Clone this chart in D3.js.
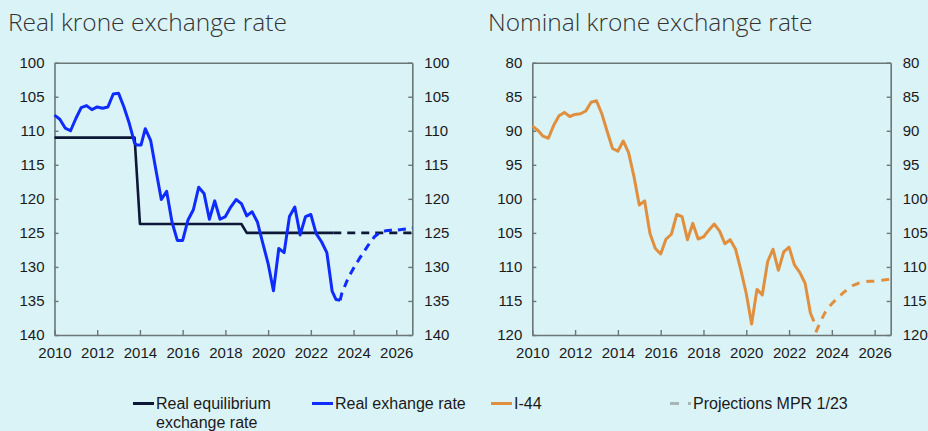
<!DOCTYPE html>
<html>
<head>
<meta charset="utf-8">
<script src="https://cdn.jsdelivr.net/npm/d3@7"></script>
<style>
  html, body { margin: 0; padding: 0; background: #daf3f7; }
  svg { display: block; }
  text { font-family: "Liberation Sans", Arial, sans-serif; fill: #1a1a1a; }
  .title { font-family: "Open Sans", sans-serif; font-weight: 300; font-size: 24.5px; fill: #333; }
</style>
</head>
<body>
<svg id="chart" width="928" height="431"></svg>
<script>
// ---------- DATA ----------
const xTickYears = [2010, 2012, 2014, 2016, 2018, 2020, 2022, 2024, 2026];
const realTicks = [100, 105, 110, 115, 120, 125, 130, 135, 140];
const nomTicks = [80, 85, 90, 95, 100, 105, 110, 115, 120];

// Real exchange rate (quarter position in years, value)
const realTime = [2010.00,2010.25,2010.50,2010.75,2011.00,2011.25,2011.50,2011.75,2012.00,2012.25,2012.50,2012.75,2013.00,2013.25,2013.50,2013.75,
  2013.85,2014.05,2014.25,2014.50,2014.75,2015.00,2015.25,2015.50,2015.75,2016.00,2016.25,2016.50,2016.75,2017.00,2017.25,2017.50,2017.75,
  2018.00,2018.25,2018.50,2018.75,2019.00,2019.25,2019.50,2019.75,2020.00,2020.25,2020.50,2020.75,2021.00,2021.25,2021.50,2021.75,
  2022.00,2022.25,2022.50,2022.75,2023.00,2023.18,2023.37];
const realValue = [107.7,108.3,109.6,110.0,108.2,106.6,106.3,106.9,106.5,106.7,106.5,104.6,104.5,106.5,108.9,111.8,
  112.1,112.1,109.7,111.4,115.8,120.1,118.9,123.4,126.1,126.1,123.1,121.6,118.3,119.2,123.0,120.3,123.0,
  122.6,121.2,120.1,120.7,122.5,121.9,123.4,126.5,129.5,133.5,127.3,127.9,122.6,121.2,125.3,122.6,
  122.3,125.1,126.3,127.9,133.6,134.8,134.9];
// Real exchange rate projection (MPR 1/23)
const realProjTime = [2023.37,2023.45,2023.75,2024.00,2024.25,2024.50,2024.75,2025.00,2025.25,2025.50,2025.75,2026.00,2026.25,2026.50,2026.75];
const realProjValue = [134.9,133.9,131.6,130.2,128.9,127.7,126.5,125.5,124.9,124.7,124.6,124.6,124.5,124.4,124.3];

// Real equilibrium exchange rate
const eqTime = [2010.00,2013.75,2014.00,2018.75,2019.00,2023.05];
const eqValue = [111.0,111.0,123.7,123.7,125.0,125.0];
const eqProjTime = [2023.05,2026.75];
const eqProjValue = [125.0,125.0];

// I-44 nominal
const nomTime = [2010.00,2010.25,2010.50,2010.75,2011.00,2011.25,2011.50,2011.75,2012.00,2012.25,2012.50,2012.75,2013.00,2013.25,2013.50,2013.75,
  2014.00,2014.25,2014.50,2014.75,2015.00,2015.25,2015.50,2015.75,2016.00,2016.25,2016.50,2016.75,2017.00,2017.25,2017.50,2017.75,
  2018.00,2018.25,2018.50,2018.75,2019.00,2019.25,2019.50,2019.75,2020.00,2020.25,2020.50,2020.75,2021.00,2021.25,2021.50,2021.75,
  2022.00,2022.25,2022.50,2022.75,2023.00,2023.16];
const nomValue = [89.3,89.9,90.8,91.1,89.2,87.8,87.3,87.9,87.6,87.5,87.1,85.8,85.6,87.5,90.1,92.6,
  93.0,91.5,93.2,96.7,100.9,100.3,105.1,107.3,108.1,105.9,105.2,102.3,102.6,106.0,103.6,105.9,
  105.6,104.6,103.7,104.7,106.6,106.0,107.4,110.5,113.9,118.4,113.3,114.1,109.2,107.4,110.5,107.8,
  107.1,109.7,110.8,112.4,116.8,118.0];
const nomProjTime = [2023.25,2023.50,2023.75,2024.00,2024.25,2024.50,2024.75,2025.00,2025.25,2025.50,2025.75,2026.00,2026.25,2026.50,2026.75];
const nomProjValue = [119.6,117.8,116.3,115.4,114.6,113.9,113.2,112.7,112.4,112.2,112.1,112.1,112.0,111.9,111.8];

const legendLabels = [["Real equilibrium", "exchange rate"], ["Real exhange rate"], ["I-44"], ["Projections MPR 1/23"]];

// ---------- DRAW ----------
const svg = d3.select("#chart");
const C = { axis: "#6c7676", navy: "#0c1836", blue: "#0f2cff", orange: "#e08f3e", grey: "#aab3b5" };

function panel(opts) {
  const x = d3.scaleLinear().domain([2010, 2026.75]).range([opts.x0, opts.x1]);
  const y = d3.scaleLinear().domain(opts.domain).range([opts.y0, opts.y1]);
  const g = svg.append("g");

  svg.append("text").attr("class", "title").attr("x", opts.titleX).attr("y", 31).text(opts.title);

  const styleAxis = sel => {
    sel.select(".domain").attr("stroke", C.axis).attr("stroke-width", 1.6);
    sel.selectAll(".tick line").attr("stroke", C.axis).attr("stroke-width", 1.4);
    sel.selectAll(".tick text").style("font-size", "15px").attr("fill", "#1a1a1a");
  };

  g.append("g").attr("transform", `translate(${opts.x0},0)`)
    .call(d3.axisLeft(y).tickValues(opts.ticks).tickSize(-4).tickSizeOuter(0).tickPadding(10).tickFormat(d3.format("d")))
    .call(styleAxis);
  g.append("g").attr("transform", `translate(${opts.x1},0)`)
    .call(d3.axisRight(y).tickValues(opts.ticks).tickSize(-4).tickSizeOuter(0).tickPadding(12).tickFormat(d3.format("d")))
    .call(styleAxis);
  g.append("g").attr("transform", `translate(0,${opts.y1})`)
    .call(d3.axisTop(x).tickValues([]).tickSizeOuter(0))
    .call(styleAxis);
  g.append("g").attr("transform", `translate(0,${opts.y0})`)
    .call(d3.axisBottom(x).tickValues(xTickYears).tickSize(-5).tickSizeOuter(0).tickPadding(12).tickFormat(d3.format("d")))
    .call(styleAxis);

  const line = d3.line().x(d => x(d[0])).y(d => y(d[1]));
  opts.series.forEach(s => {
    g.append("path")
      .attr("d", line(d3.zip(s.t, s.v)))
      .attr("fill", "none")
      .attr("stroke", s.color)
      .attr("stroke-width", s.w)
      .attr("stroke-linejoin", "round")
      .attr("stroke-dasharray", s.dash || null);
  });
}

panel({
  title: "Real krone exchange rate", titleX: 8,
  x0: 54.5, x1: 412.3, y0: 335, y1: 62.7, domain: [140, 100], ticks: realTicks,
  series: [
    { t: eqTime, v: eqValue, color: C.navy, w: 2.6 },
    { t: eqProjTime, v: eqProjValue, color: C.navy, w: 2.6, dash: "8,6" },
    { t: realTime, v: realValue, color: C.blue, w: 3 },
    { t: realProjTime, v: realProjValue, color: C.blue, w: 3, dash: "8,6" }
  ]
});

panel({
  title: "Nominal krone exchange rate", titleX: 488,
  x0: 532.3, x1: 890.7, y0: 335, y1: 62.7, domain: [120, 80], ticks: nomTicks,
  series: [
    { t: nomTime, v: nomValue, color: C.orange, w: 3 },
    { t: nomProjTime, v: nomProjValue, color: C.orange, w: 3, dash: "8,7" }
  ]
});

// Legend
const legendItems = [
  { x: 133, color: C.navy, dash: null },
  { x: 312, color: C.blue, dash: null },
  { x: 491, color: C.orange, dash: null },
  { x: 670, color: C.grey, dash: "9,9" }
];
const lg = svg.append("g");
legendItems.forEach((it, i) => {
  lg.append("line").attr("x1", it.x).attr("x2", it.x + 21).attr("y1", 403.5).attr("y2", 403.5)
    .attr("stroke", it.color).attr("stroke-width", 3).attr("stroke-dasharray", it.dash);
  const t = lg.append("text").attr("x", it.x + 23).attr("y", 409).style("font-size", "16px");
  legendLabels[i].forEach((s, j) => {
    t.append("tspan").attr("x", it.x + 23).attr("dy", j === 0 ? 0 : 19).text(s);
  });
});
</script>
</body>
</html>
